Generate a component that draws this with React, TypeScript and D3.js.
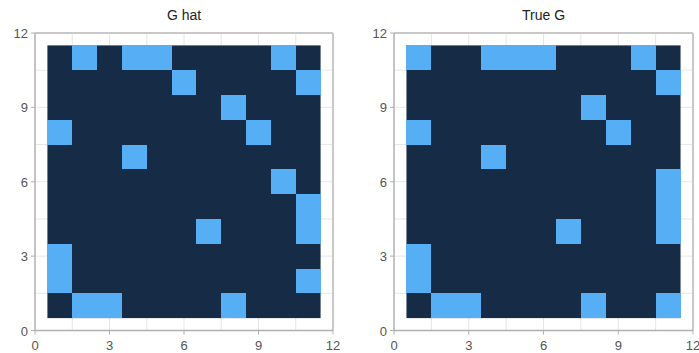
import React from "react";
import * as d3 from "d3";

const titles = ["G hat", "True G"];
const ticks = [0, 3, 6, 9, 12];
const gridVals = [1.5, 3, 4.5, 6, 7.5, 9, 10.5];
// rows listed from y=11 (top) to y=1 (bottom); columns x=1..11
const gHat: number[][] = [
  [0, 1, 0, 1, 1, 0, 0, 0, 0, 1, 0],
  [0, 0, 0, 0, 0, 1, 0, 0, 0, 0, 1],
  [0, 0, 0, 0, 0, 0, 0, 1, 0, 0, 0],
  [1, 0, 0, 0, 0, 0, 0, 0, 1, 0, 0],
  [0, 0, 0, 1, 0, 0, 0, 0, 0, 0, 0],
  [0, 0, 0, 0, 0, 0, 0, 0, 0, 1, 0],
  [0, 0, 0, 0, 0, 0, 0, 0, 0, 0, 1],
  [0, 0, 0, 0, 0, 0, 1, 0, 0, 0, 1],
  [1, 0, 0, 0, 0, 0, 0, 0, 0, 0, 0],
  [1, 0, 0, 0, 0, 0, 0, 0, 0, 0, 1],
  [0, 1, 1, 0, 0, 0, 0, 1, 0, 0, 0],
];
const trueG: number[][] = [
  [1, 0, 0, 1, 1, 1, 0, 0, 0, 1, 0],
  [0, 0, 0, 0, 0, 0, 0, 0, 0, 0, 1],
  [0, 0, 0, 0, 0, 0, 0, 1, 0, 0, 0],
  [1, 0, 0, 0, 0, 0, 0, 0, 1, 0, 0],
  [0, 0, 0, 1, 0, 0, 0, 0, 0, 0, 0],
  [0, 0, 0, 0, 0, 0, 0, 0, 0, 0, 1],
  [0, 0, 0, 0, 0, 0, 0, 0, 0, 0, 1],
  [0, 0, 0, 0, 0, 0, 1, 0, 0, 0, 1],
  [1, 0, 0, 0, 0, 0, 0, 0, 0, 0, 0],
  [1, 0, 0, 0, 0, 0, 0, 0, 0, 0, 0],
  [0, 1, 1, 0, 0, 0, 0, 1, 0, 0, 1],
];
const matrices = [gHat, trueG];

const W = 699;
const H = 353;
const panels = [
  { x0: 35, x1: 333 },
  { x0: 394, x1: 693 },
];
const yTop = 33;
const yBot = 330.5;
const colorScale = d3.scaleOrdinal<number, string>().domain([0, 1]).range(["#162b45", "#56aff5"]);

function Panel({ idx }: { idx: number }) {
  const p = panels[idx];
  const x = d3.scaleLinear().domain([0, 12]).range([p.x0, p.x1]);
  const y = d3.scaleLinear().domain([0, 12]).range([yBot, yTop]);
  const m = matrices[idx];
  const n = m.length;
  const cells: { cx: number; cy: number; v: number }[] = [];
  m.forEach((row, r) => row.forEach((v, c) => cells.push({ cx: c + 1, cy: n - r, v })));
  const font = "'Liberation Sans', Arial, sans-serif";
  return (
    <g>
      <text x={(p.x0 + p.x1) / 2} y={20} textAnchor="middle" fontSize={14} fill="#222" fontFamily={font}>
        {titles[idx]}
      </text>
      {gridVals.map((g) => (
        <g key={g}>
          <line x1={x(g)} x2={x(g)} y1={y(0)} y2={y(12)} stroke="#e6e6e6" strokeWidth={1} />
          <line x1={x(0)} x2={x(12)} y1={y(g)} y2={y(g)} stroke="#e6e6e6" strokeWidth={1} />
        </g>
      ))}
      <rect
        x={x(0.5)}
        y={y(n + 0.5)}
        width={x(n + 0.5) - x(0.5)}
        height={y(0.5) - y(n + 0.5)}
        fill={colorScale(0)}
      />
      {cells
        .filter((c) => c.v === 1)
        .map((c, i) => (
          <rect
            key={i}
            x={x(c.cx - 0.5)}
            y={y(c.cy + 0.5)}
            width={x(c.cx + 0.5) - x(c.cx - 0.5)}
            height={y(c.cy - 0.5) - y(c.cy + 0.5)}
            fill={colorScale(c.v)}
            shapeRendering="crispEdges"
          />
        ))}
      <line x1={x(0)} x2={x(12)} y1={y(12)} y2={y(12)} stroke="#c8c8c8" strokeWidth={2} />
      <line x1={x(12)} x2={x(12)} y1={y(0)} y2={y(12)} stroke="#c8c8c8" strokeWidth={2} />
      <line x1={x(0)} x2={x(0)} y1={y(0)} y2={y(12)} stroke="#b0b0b0" strokeWidth={1.5} />
      <line x1={x(0)} x2={x(12)} y1={y(0)} y2={y(0)} stroke="#b0b0b0" strokeWidth={1.5} />
      {ticks.map((t) => (
        <g key={t}>
          <line x1={x(0) - 4} x2={x(0)} y1={y(t)} y2={y(t)} stroke="#b0b0b0" strokeWidth={1} />
          <text x={x(0) - 7} y={y(t) + 5} textAnchor="end" fontSize={13} fill="#555" fontFamily={font}>
            {t}
          </text>
          <line x1={x(t)} x2={x(t)} y1={y(0)} y2={y(0) + 4} stroke="#b0b0b0" strokeWidth={1} />
          <text x={x(t)} y={y(0) + 19} textAnchor="middle" fontSize={13} fill="#555" fontFamily={font}>
            {t}
          </text>
        </g>
      ))}
    </g>
  );
}

export default function App() {
  return (
    <svg width={W} height={H} style={{ position: "absolute", left: 0, top: 0, background: "#fff" }}>
      <rect width={W} height={H} fill="#fff" />
      <Panel idx={0} />
      <Panel idx={1} />
    </svg>
  );
}
